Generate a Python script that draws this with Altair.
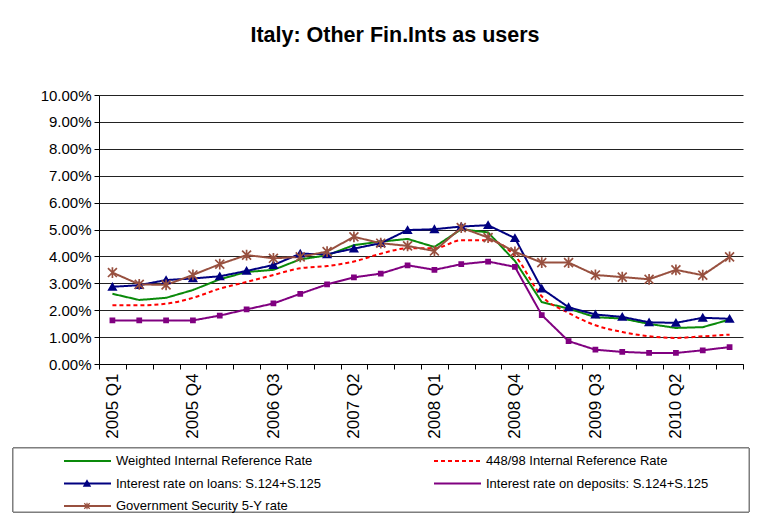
import altair as alt
import pandas as pd

quarters = [f"{y} Q{q}" for y in range(2005, 2011) for q in range(1, 5)]

weighted = [2.61, 2.38, 2.46, 2.75, 3.15, 3.42, 3.50, 3.89, 4.04, 4.42, 4.55, 4.65,
            4.35, 5.01, 4.89, 3.83, 2.30, 2.06, 1.74, 1.69, 1.49, 1.34, 1.37, 1.65]
irr_44898 = [2.18, 2.18, 2.24, 2.46, 2.80, 3.05, 3.31, 3.56, 3.64, 3.81, 4.10, 4.30,
             4.30, 4.60, 4.60, 4.02, 2.52, 1.90, 1.44, 1.19, 1.03, 0.97, 1.03, 1.09]
loans = [2.87, 2.93, 3.12, 3.18, 3.26, 3.46, 3.68, 4.10, 4.08, 4.29, 4.49, 4.98,
         5.01, 5.11, 5.16, 4.68, 2.80, 2.11, 1.84, 1.75, 1.55, 1.53, 1.72, 1.68]
deposits = [1.62, 1.62, 1.62, 1.62, 1.80, 2.03, 2.25, 2.61, 2.96, 3.22, 3.36, 3.67,
            3.50, 3.71, 3.81, 3.61, 1.82, 0.85, 0.53, 0.45, 0.41, 0.41, 0.51, 0.63]
gov5y = [3.40, 2.96, 2.94, 3.31, 3.71, 4.05, 3.93, 3.98, 4.18, 4.73, 4.49, 4.39,
         4.20, 5.07, 4.70, 4.17, 3.77, 3.77, 3.31, 3.23, 3.15, 3.50, 3.30, 3.98]

names = ["Weighted Internal Reference Rate", "448/98 Internal Reference Rate",
         "Interest rate on loans: S.124+S.125", "Interest rate on deposits: S.124+S.125",
         "Government Security 5-Y rate"]
series_values = [weighted, irr_44898, loans, deposits, gov5y]
colors = ["#0A8A0A", "#FF0000", "#000080", "#800080", "#98503F"]
dashes = [[1, 0], [4, 3], [1, 0], [1, 0], [1, 0]]
interps = ["linear", "monotone", "linear", "linear", "linear"]
markers = [None, None, "triangle-up", "square", "asterisk"]

FONT = "Liberation Sans"
ASTERISK = "M-1,-1L1,1M-1,1L1,-1M0,-1.2L0,1.2"

rows = []
for n, vals in zip(names, series_values):
    for q, v in zip(quarters, vals):
        rows.append({"quarter": q, "series": n, "value": v})
df = pd.DataFrame(rows)

x_enc = alt.X("quarter:N", sort=quarters, bandPosition=0.5,
              scale=alt.Scale(type="band", paddingInner=0, paddingOuter=0),
              axis=alt.Axis(title=None, tickBand="extent", grid=False, labelAngle=270,
                            labelAlign="right", labelBaseline="middle", labelOverlap=False,
                            labelFont=FONT, labelFontSize=17, labelColor="black",
                            labelPadding=4, tickSize=5, tickColor="black",
                            domainColor="black",
                            labelExpr="(toNumber(substring(datum.value,0,4))*4 + toNumber(substring(datum.value,6,7)) - 1) % 3 == 1 ? datum.value : ''"))
y_enc = alt.Y("value:Q", scale=alt.Scale(domain=[0, 10], nice=False),
              axis=alt.Axis(title=None, values=list(range(0, 11)), grid=True,
                            gridColor="#222222", gridWidth=1, domainColor="black",
                            tickColor="black", tickSize=5, labelFont=FONT,
                            labelFontSize=15, labelColor="black", labelPadding=3,
                            labelExpr="format(datum.value, '.2f') + '%'"))

main_layers = []
for n, c, d, it in zip(names, colors, dashes, interps):
    main_layers.append(alt.Chart(df).transform_filter(alt.datum.series == n)
                       .mark_line(color=c, strokeDash=d, strokeWidth=2, interpolate=it)
                       .encode(x=x_enc, y=y_enc))
for n, c, m in zip(names, colors, markers):
    if m is None:
        continue
    base = alt.Chart(df).transform_filter(alt.datum.series == n)
    if m == "asterisk":
        mk = base.mark_point(shape=ASTERISK, filled=False, stroke=c, strokeWidth=1.7, size=80, opacity=1)
    elif m == "triangle-up":
        mk = base.mark_point(shape="triangle-up", filled=True, fill=c, stroke=c, size=45, opacity=1)
    else:
        mk = base.mark_point(shape="square", filled=True, fill=c, stroke=c, size=14, opacity=1)
    main_layers.append(mk.encode(x=x_enc, y=y_enc))
main = alt.layer(*main_layers)

# legend drawn below the plot, using its own scales
leg_df = pd.DataFrame({
    "name": names,
    "col": [i % 2 for i in range(len(names))],
    "row": [i // 2 for i in range(len(names))],
})
lx = alt.X("col:Q", scale=alt.Scale(domain=[0, 2], range=[-86, 654], nice=False, zero=False), axis=None)
ly = alt.Y("row:Q", scale=alt.Scale(domain=[0, 2], range=[366, 411], nice=False, zero=False), axis=None)
leg_layers = [
    alt.Chart(leg_df).mark_rect(fill="white", stroke="#7a7a7a", strokeWidth=1)
    .encode(x=alt.value(-86), x2=alt.value(650), y=alt.value(353), y2=alt.value(417))
]
for n, c, d in zip(names, colors, dashes):
    leg_layers.append(alt.Chart(leg_df).transform_filter(alt.datum.name == n)
                      .mark_rule(color=c, strokeDash=d, strokeWidth=2, xOffset=51, x2Offset=98)
                      .encode(x=lx, x2="col:Q", y=ly))
for n, c, m in zip(names, colors, markers):
    if m is None:
        continue
    base = alt.Chart(leg_df).transform_filter(alt.datum.name == n)
    if m == "asterisk":
        mk = base.mark_point(shape=ASTERISK, filled=False, stroke=c, strokeWidth=1.2, size=30, opacity=1, xOffset=74)
    elif m == "triangle-up":
        mk = base.mark_point(shape="triangle-up", filled=True, fill=c, stroke=c, size=25, opacity=1, xOffset=74)
    else:
        continue
    leg_layers.append(mk.encode(x=lx, y=ly))
leg_layers.append(alt.Chart(leg_df).mark_text(align="left", baseline="middle", dx=103,
                                              font=FONT, fontSize=13, color="black")
                  .encode(x=lx, y=ly, text="name:N"))
legend = alt.layer(*leg_layers)

chart = alt.layer(main, legend).resolve_scale(x="independent", y="independent").properties(
    width=644, height=269,
    title=alt.TitleParams("Italy: Other Fin.Ints as users", font=FONT, fontSize=21.5,
                          fontWeight="bold", color="black", anchor="middle",
                          frame="group", dx=-26, offset=42),
    padding={"left": 4, "top": 16, "right": 0, "bottom": 0},
    background="white",
).configure_view(stroke=None)

chart.save("out.html", embed_options={"renderer": "svg", "actions": False})
